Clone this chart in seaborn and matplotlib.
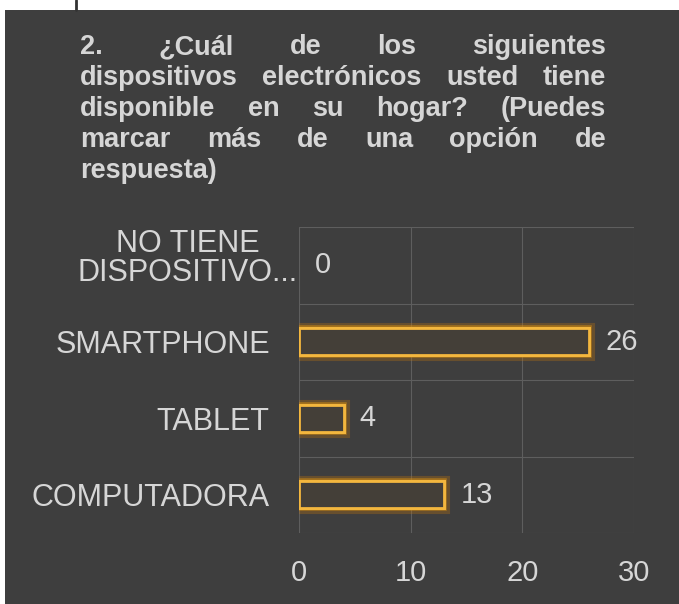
import seaborn as sns
import pandas as pd
import matplotlib.pyplot as plt
import matplotlib.patheffects as pe
from matplotlib.patches import Rectangle

categories = ['NO TIENE\nDISPOSITIVO...', 'SMARTPHONE', 'TABLET', 'COMPUTADORA']
counts = [0, 26, 4, 13]
x_ticks = [0, 10, 20, 30]
title_lines = [
    '2. ¿Cuál de los siguientes',
    'dispositivos electrónicos usted tiene',
    'disponible en su hogar? (Puedes',
    'marcar más de una opción de',
    'respuesta)',
]

BG = '#3e3e3e'
TXT = '#d6d6d6'
ORANGE = '#f4b73e'
FS = 22

data = pd.DataFrame({'cat': categories, 'n': counts})

sns.set_style('dark')
plt.rcParams['font.family'] = ['Liberation Sans', 'DejaVu Sans']

fig = plt.figure(figsize=(6.79, 6.04), dpi=100, facecolor='white')
# dark panel with white strip at top/left
fig.patches.append(Rectangle((5 / 679, 0), 1, 1 - 10 / 604, transform=fig.transFigure,
                             facecolor=BG, edgecolor='none', zorder=-10))
fig.add_artist(plt.Line2D([76 / 679, 76 / 679], [1 - 10 / 604, 1], color='#333333',
                          lw=2, transform=fig.transFigure))

ax = fig.add_axes([299 / 679, 1 - 533 / 604, 335 / 679, 306 / 604])
ax.set_facecolor(BG)
sns.barplot(data=data, x='n', y='cat', orient='h', ax=ax, width=0.35,
            color=BG, linewidth=2, edgecolor=ORANGE, zorder=3)
for p in ax.patches:
    if p.get_width() == 0:
        p.set_visible(False)
    p.set_facecolor('#443f38')
    p.set_path_effects([pe.withStroke(linewidth=8, foreground='#c8780a', alpha=0.3),
                        pe.withStroke(linewidth=4, foreground='#e0940f', alpha=0.5),
                        pe.Normal()])

for i, v in enumerate(counts):
    ax.text(v + 1.45, i, str(v), va='center', ha='left', color=TXT, fontsize=FS - 1)

ax.set_xlim(0, 30)
ax.set_ylim(3.5, -0.5)
ax.set_xticks(x_ticks)
ax.set_xticklabels([str(t) for t in x_ticks])
ax.set_xlabel('')
ax.set_ylabel('')
ax.grid(True, axis='x', color='#5e5e5e', linewidth=0.8)
ax.set_yticks([-0.5, 0.5, 1.5, 2.5, 3.5], minor=True)
ax.grid(False, axis='y', which='major')
ax.grid(True, axis='y', which='minor', color='#5e5e5e', linewidth=0.8)
for s in ax.spines.values():
    s.set_visible(False)
ax.tick_params(axis='both', which='both', length=0, colors=TXT, labelsize=FS)
ax.tick_params(axis='x', pad=19, labelsize=FS - 1)
ax.tick_params(axis='y', pad=21)

# first category label sticks out to the right with its ellipsis
ylabels = [lab.get_text() for lab in ax.get_yticklabels()]
ylabels[0] = ''
ax.set_yticklabels(ylabels)
ax.annotate(categories[0], xy=(0, 0), xycoords=('axes fraction', 'data'),
            xytext=(-1, 5), textcoords='offset points', ha='right', va='center',
            multialignment='center', linespacing=0.95, color=TXT, fontsize=FS)

# justified title
fig.canvas.draw()
renderer = fig.canvas.get_renderer()
left, right = 80, 606
y0 = 47
for k, line in enumerate(title_lines):
    words = line.split()
    y = 1 - (y0 + k * 31) / 604
    arts = [fig.text(0, y, w, fontsize=19.5, fontweight='bold', color=TXT,
                     va='center', ha='left') for w in words]
    widths = [a.get_window_extent(renderer).width for a in arts]
    if k < len(title_lines) - 1 and len(words) > 1:
        gap = (right - left - sum(widths)) / (len(words) - 1)
    else:
        gap = 6
    x = left
    for a, w in zip(arts, widths):
        a.set_x(x / 679)
        x += w + gap

fig.savefig('out.png', dpi=100, facecolor='white')
